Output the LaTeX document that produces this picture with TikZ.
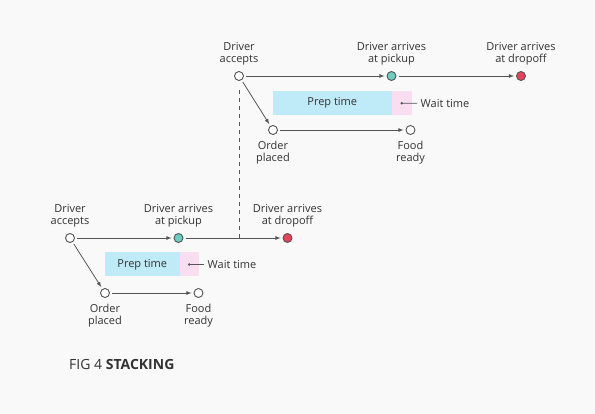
\documentclass[tikz,border=0pt]{standalone}
\usepackage{fontspec}
\setmainfont{Open Sans}
\usetikzlibrary{positioning}

\definecolor{paper}{HTML}{F9F9F9}
\definecolor{linegray}{HTML}{555555}
\definecolor{textgray}{HTML}{333333}
\definecolor{prepblue}{HTML}{BFEAF8}
\definecolor{waitpink}{HTML}{F9DDF1}
\definecolor{pickteal}{HTML}{6CCDC3}
\definecolor{dropred}{HTML}{E5435B}

\begin{document}
\begin{tikzpicture}[x=1pt, y=-1pt]
    \fill[paper] (0,0) rectangle (595,414);
    \useasboundingbox (0,0) rectangle (595,414);

    % events
    \begin{scope}[every node/.style={circle, draw=linegray, line width=0.9pt, fill=white,
                                     minimum size=9pt, inner sep=0pt, outer sep=2.5pt}]
        \node (AccTop)   at (239, 76)    {};
        \node[fill=pickteal] (PickTop)  at (391.5, 76)  {};
        \node[fill=dropred]  (DropTop)  at (521, 76)    {};
        \node (OrderTop) at (273, 130)   {};
        \node (FoodTop)  at (410.5, 130) {};

        \node (AccBot)   at (70, 238)    {};
        \node[fill=pickteal] (PickBot)  at (178.5, 238) {};
        \node[fill=dropred]  (DropBot)  at (287.5, 238) {};
        \node (OrderBot) at (105, 293)   {};
        \node (FoodBot)  at (198.5, 293) {};
    \end{scope}

    % time bars
    \begin{scope}[every node/.style={inner sep=0pt, text=textgray, font=\fontsize{11}{12}\selectfont}]
        \node[fill=prepblue, minimum width=119.5pt, minimum height=23.5pt] (PrepTop) at (332.25, 103.25) {Prep time};
        \node[fill=waitpink, minimum width=19.5pt, minimum height=23.5pt]  (WaitTop) at (401.75, 103.25) {};
        \node[anchor=west] (WaitLblTop) at (420.5, 103.3) {Wait time};

        \node[fill=prepblue, minimum width=74.5pt, minimum height=24pt] (PrepBot) at (142.25, 264.5) {Prep time};
        \node[fill=waitpink, minimum width=19.5pt, minimum height=24pt] (WaitBot) at (189.25, 264.5) {};
        \node[anchor=west] (WaitLblBot) at (207.5, 264.5) {Wait time};
    \end{scope}

    \begin{scope}[>=latex, linegray, line width=0.8pt]
        \draw[->] (AccTop) -- (PickTop);
        \draw[->] (PickTop) -- (DropTop);
        \draw[->] (AccTop) -- (OrderTop);
        \draw[->] (OrderTop) -- (FoodTop);

        \draw[->] (AccBot) -- (PickBot);
        \draw[->] (PickBot) -- (DropBot);
        \draw[->] (AccBot) -- (OrderBot);
        \draw[->] (OrderBot) -- (FoodBot);

        \draw[dash pattern=on 4pt off 4pt, shorten <=7.5pt] (AccTop) -- (AccTop |- AccBot);

        \fill (WaitTop.center) circle (1.4);
        \draw[shorten >=3.5pt] (WaitTop.center) -- (WaitLblTop.west);
        \fill (WaitBot.center) circle (1.4);
        \draw[shorten >=3.5pt] (WaitBot.center) -- (WaitLblBot.west);
    \end{scope}

    % labels
    \begin{scope}[every node/.style={node distance=4pt, align=center, inner sep=0pt,
                                     text=textgray, font=\fontsize{11}{12}\selectfont}]
        \node[above = of AccTop]  {Driver\\accepts};
        \node[above = of PickTop] {Driver arrives\\at pickup};
        \node[above = of DropTop] {Driver arrives\\at dropoff};
        \node[below = 4pt of OrderTop] {Order\\placed};
        \node[below = 4pt of FoodTop]  {Food\\ready};

        \node[above = of AccBot]  {Driver\\accepts};
        \node[above = of PickBot] {Driver arrives\\at pickup};
        \node[above = of DropBot] {Driver arrives\\at dropoff};
        \node[below = 4pt of OrderBot] {Order\\placed};
        \node[below = 4pt of FoodBot]  {Food\\ready};
    \end{scope}

    \node[anchor=west, inner sep=0pt, text=textgray, font=\fontsize{14}{16}\selectfont] (Caption)
        at (69, 364) {FIG 4 \textbf{STACKING}};
\end{tikzpicture}
\end{document}
